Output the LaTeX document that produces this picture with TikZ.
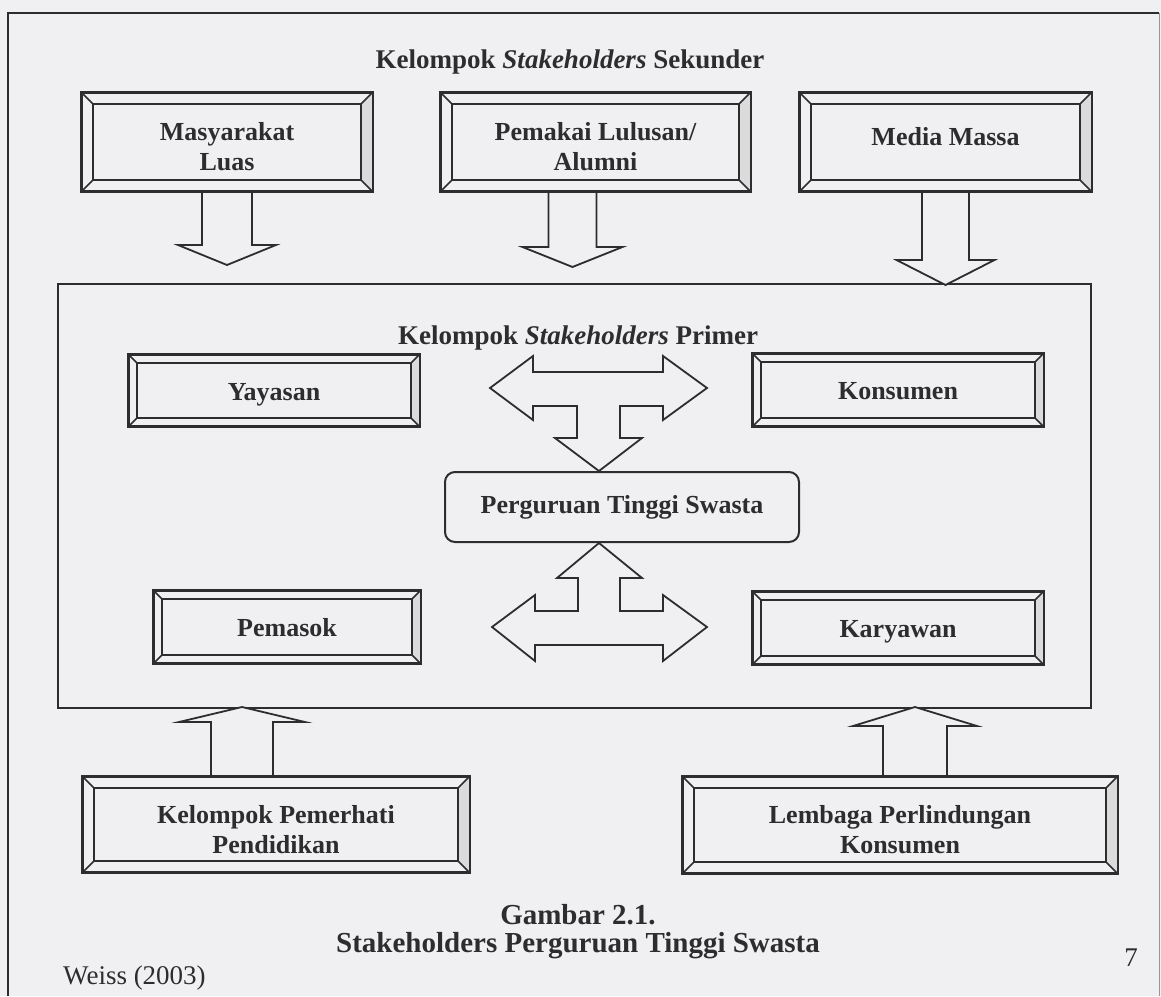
\documentclass[tikz,border=0pt]{standalone}
\usepackage{fontspec}
\setmainfont{Liberation Serif}
\usetikzlibrary{calc,fit}
\definecolor{paper}{RGB}{240,240,242}
\definecolor{ink}{RGB}{45,45,48}
\tikzset{
  frameline/.style={draw=ink, line width=2pt},
  bvframe/.style={draw=ink, line width=2pt, inner sep=0pt},
  bvinner/.style={draw=ink, line width=1.6pt},
  bvshade/.style={fill=gray!28},
  bvtext/.style={font=\fontsize{26}{30}\selectfont\bfseries, text=ink, align=center, inner sep=0pt},
  oneline/.style={anchor=base, yshift=-9.5pt},
  twoline/.style={yshift=-5pt},
  blk/.style={draw=ink, line width=1.8pt, fill=paper, line join=miter},
  ttl/.style={font=\fontsize{27}{30}\selectfont\bfseries, text=ink, inner sep=0pt},
  captxt/.style={font=\fontsize{29}{32}\selectfont\bfseries, text=ink, inner sep=0pt},
  plain/.style={font=\fontsize{27}{30}\selectfont, text=ink, inner sep=0pt},
}
% beveled box: [text placement], name, corner1, corner2, bevel, text
\newcommand{\bvbox}[6][twoline]{%
  \node[bvframe, fit={(#3)(#4)}] (#2) {};
  \fill[bvshade] ([shift={(-#5,-#5)}]#2.north east) -- (#2.north east) -- (#2.south east) -- ([shift={(-#5,#5)}]#2.south east) -- cycle;
  \draw[bvinner] ([shift={(#5,-#5)}]#2.north west) rectangle ([shift={(-#5,#5)}]#2.south east);
  \draw[bvinner] (#2.north west) -- ([shift={(#5,-#5)}]#2.north west);
  \draw[bvinner] (#2.north east) -- ([shift={(-#5,-#5)}]#2.north east);
  \draw[bvinner] (#2.south west) -- ([shift={(#5,#5)}]#2.south west);
  \draw[bvinner] (#2.south east) -- ([shift={(-#5,#5)}]#2.south east);
  \draw[bvframe] (#2.north west) rectangle (#2.south east);
  \node[bvtext, #1] (#2t) at (#2.center) {#6};
}
% block arrows: start, shaft length, shaft half width, head half width, head length
\newcommand{\blkdown}[5]{%
  \draw[blk] (#1) ++(-#3,0) -- ++(0,#2) -- ++({#3-#4},0) -- ++(#4,#5) -- ++(#4,-#5) -- ++({#3-#4},0) -- ++(0,-#2) -- cycle;
}
\newcommand{\blkup}[5]{%
  \draw[blk] (#1) ++(-#3,0) -- ++(0,-#2) -- ++({#3-#4},0) -- ++(#4,-#5) -- ++(#4,#5) -- ++({#3-#4},0) -- ++(0,#2) -- cycle;
}
\begin{document}
\begin{tikzpicture}[x=1pt, y=-1pt]
  \fill[paper] (0,0) rectangle (1161,996);
  \useasboundingbox (0,0) rectangle (1161,996);

  % outer page frame
  \draw[frameline] (8,996) -- (8,13) -- (1159,13);
  \draw[ink!50, line width=1pt] (1159,13) -- (1159,996);

  % secondary group
  \node[ttl] (sek) at (570,62) {Kelompok \textit{Stakeholders} Sekunder};
  \bvbox{masy}{82,93}{372,191}{12pt}{Masyarakat\\Luas}
  \bvbox{pemakai}{441,93}{750,191}{12pt}{Pemakai Lulusan/\\Alumni}
  \bvbox[anchor=base, yshift=-3pt]{media}{800,93}{1091,191}{12pt}{Media Massa}

  % primary frame
  \node[bvframe, fit={(58,284)(1091,708)}] (primer) {};
  \node[ttl] (prim) at (578,338) {Kelompok \textit{Stakeholders} Primer};

  \blkdown{masy.south}{53}{25}{49}{20}
  \blkdown{[xshift=-23pt]pemakai.south}{55}{24}{50}{20}
  \blkdown{media.south}{68}{23.5}{49}{25}

  \bvbox[oneline]{yay}{129,355}{419,426}{9pt}{Yayasan}
  \bvbox[oneline]{kons}{753,354}{1043,426}{9pt}{Konsumen}
  \bvbox[oneline]{pem}{154,591}{420,663}{9pt}{Pemasok}
  \bvbox[oneline]{kar}{753,592}{1043,664}{9pt}{Karyawan}

  \node[draw=ink, line width=2pt, rounded corners=10pt, inner sep=0pt, fit={(445,472)(799,542)}] (pts) {};
  \node[bvtext, anchor=base, yshift=-6pt] (ptst) at (pts.center) {Perguruan Tinggi Swasta};

  % T-shaped block arrows
  \draw[blk] ([xshift=-23pt]pts.north) -- ++(-44,-33) -- ++(22,0) -- ++(0,-32) -- ++(-44,0) -- ++(0,14) -- ++(-43,-32) -- ++(43,-32) -- ++(0,16) -- ++(130,0) -- ++(0,-16) -- ++(44,32) -- ++(-44,32) -- ++(0,-14) -- ++(-43,0) -- ++(0,32) -- ++(22,0) -- cycle;
  \draw[blk] ([xshift=-23pt]pts.south) -- ++(43,35) -- ++(-22,0) -- ++(0,33) -- ++(43,0) -- ++(0,-16) -- ++(44,32) -- ++(-44,34) -- ++(0,-16) -- ++(-128,0) -- ++(0,16) -- ++(-43,-34) -- ++(43,-32) -- ++(0,16) -- ++(43,0) -- ++(0,-33) -- ++(-21,0) -- cycle;

  % bottom secondary boxes
  \bvbox{perhati}{83,777}{469,872}{12pt}{Kelompok Pemerhati\\Pendidikan}
  \bvbox{lembaga}{683,777}{1117,873}{12pt}{Lembaga Perlindungan\\Konsumen}
  \blkup{[xshift=-34pt]perhati.north}{54}{31}{63}{15}
  \blkup{[xshift=15pt]lembaga.north}{50}{32}{62}{19}

  % caption
  \node[captxt] (cap1) at (578,915) {Gambar 2.1.};
  \node[captxt] (cap2) at (578,946) {Stakeholders Perguruan Tinggi Swasta};
  \node[plain, anchor=west] (src) at (63,978) {Weiss (2003)};
  \node[plain] (pg) at (1131,958) {7};
\end{tikzpicture}
\end{document}
